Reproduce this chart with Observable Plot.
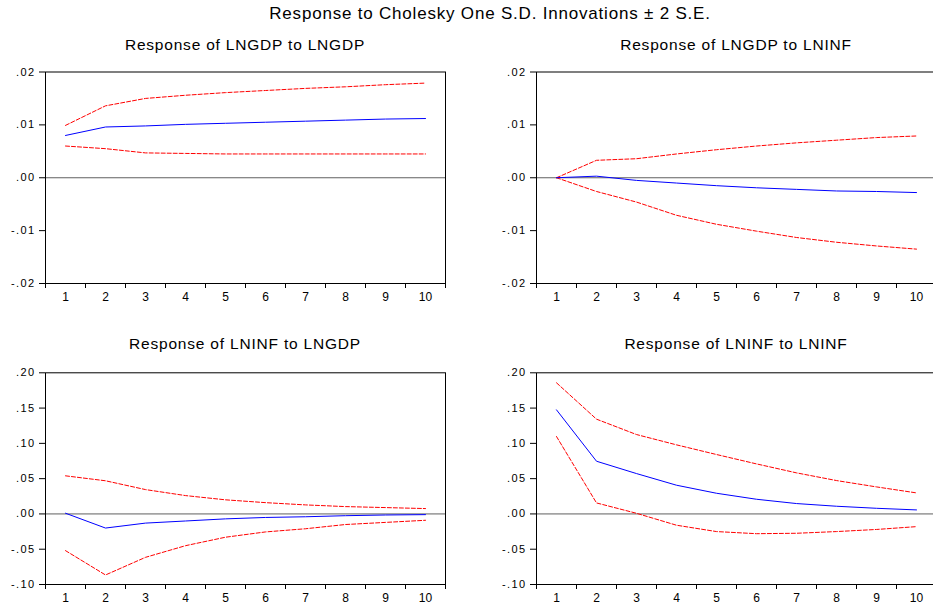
<!DOCTYPE html>
<html>
<head>
<meta charset="utf-8">
<script src="https://cdn.jsdelivr.net/npm/d3@7"></script>
<script src="https://cdn.jsdelivr.net/npm/@observablehq/plot@0.6"></script>
<style>
  html, body { margin: 0; padding: 0; background: #fff; }
  #wrap { position: relative; width: 933px; height: 605px; overflow: hidden; background: #fff;
          font-family: "Liberation Sans", Arial, sans-serif; color: #000; }
  .ttl { position: absolute; white-space: nowrap; transform: translateX(-50%); line-height: 1; }
  .panel { position: absolute; }
  [aria-label="y-axis tick label"] text { letter-spacing: 1.4px; }
</style>
</head>
<body>
<div id="wrap"></div>
<script>
const periods = [1, 2, 3, 4, 5, 6, 7, 8, 9, 10];
const halfTicks = [0.5, 1.5, 2.5, 3.5, 4.5, 5.5, 6.5, 7.5, 8.5, 9.5, 10.5];

const mainTitle = "Response to Cholesky One S.D. Innovations \u00b1 2 S.E.";
const panelTitles = [
  "Response of LNGDP to LNGDP",
  "Response of LNGDP to LNINF",
  "Response of LNINF to LNGDP",
  "Response of LNINF to LNINF"
];

const gdpTicks = [-0.02, -0.01, 0, 0.01, 0.02];
const infTicks = [-0.10, -0.05, 0, 0.05, 0.10, 0.15, 0.20];

// Response of LNGDP to LNGDP
const gdpGdpResp  = [0.0080, 0.0096, 0.0098, 0.0101, 0.0103, 0.0105, 0.0107, 0.0109, 0.0111, 0.0112];
const gdpGdpUpper = [0.0099, 0.0136, 0.0150, 0.0156, 0.0161, 0.0165, 0.0169, 0.0172, 0.0176, 0.0179];
const gdpGdpLower = [0.0060, 0.0055, 0.0047, 0.0046, 0.0045, 0.0045, 0.0045, 0.0045, 0.0045, 0.0045];

// Response of LNGDP to LNINF
const gdpInfResp  = [0.0000, 0.0003, -0.0005, -0.0010, -0.0015, -0.0019, -0.0022, -0.0025, -0.0026, -0.0028];
const gdpInfUpper = [0.0000, 0.0033, 0.0036, 0.0045, 0.0053, 0.0060, 0.0066, 0.0071, 0.0076, 0.0079];
const gdpInfLower = [0.0000, -0.0026, -0.0046, -0.0071, -0.0088, -0.0101, -0.0113, -0.0122, -0.0129, -0.0135];

// Response of LNINF to LNGDP
const infGdpResp  = [0.001, -0.020, -0.013, -0.010, -0.007, -0.005, -0.004, -0.0025, -0.0015, -0.001];
const infGdpUpper = [0.054, 0.047, 0.0345, 0.026, 0.020, 0.016, 0.0128, 0.0104, 0.009, 0.0076];
const infGdpLower = [-0.052, -0.0865, -0.0615, -0.045, -0.033, -0.0255, -0.021, -0.015, -0.012, -0.009];

// Response of LNINF to LNINF
const infInfResp  = [0.1475, 0.0747, 0.0572, 0.0407, 0.0293, 0.0208, 0.0147, 0.0109, 0.0080, 0.0057];
const infInfUpper = [0.1858, 0.1343, 0.1125, 0.0979, 0.0842, 0.0709, 0.0582, 0.0473, 0.0383, 0.0298];
const infInfLower = [0.1097, 0.0156, 0.0009, -0.0160, -0.0250, -0.0280, -0.0274, -0.0250, -0.0220, -0.0180];

const fmt = d => (d < 0 ? "-" : "") + Math.abs(d).toFixed(2).replace(/^0/, "");

function panel(resp, upper, lower, yDomain, yTicks, o) {
  const rows = periods.map((p, i) => ({p, resp: resp[i], upper: upper[i], lower: lower[i]}));
  return Plot.plot({
    width: o.width, height: o.height,
    marginLeft: o.ml, marginRight: o.mr, marginTop: o.mt, marginBottom: o.mb,
    x: {domain: [0.5, 10.5], label: null},
    y: {domain: yDomain, label: null},
    style: {fontFamily: '"Liberation Sans", Arial, sans-serif', background: "transparent", color: "#000", overflow: "visible"},
    marks: [
      Plot.ruleY([0], {stroke: "#606060", strokeWidth: 1}),
      Plot.line(rows, {x: "p", y: "upper", stroke: "#ff0000", strokeWidth: 1, strokeDasharray: "4,2"}),
      Plot.line(rows, {x: "p", y: "lower", stroke: "#ff0000", strokeWidth: 1, strokeDasharray: "4,2"}),
      Plot.line(rows, {x: "p", y: "resp", stroke: "#0000ff", strokeWidth: 1}),
      Plot.frame({stroke: "#000", strokeWidth: 1}),
      Plot.axisY(yTicks, {tickSize: 6, tickPadding: 4, tickFormat: fmt, fontSize: 11, label: null}),
      Plot.axisX(halfTicks, {tickSize: 5, tickFormat: () => "", label: null}),
      Plot.axisX(periods, {tickSize: 0, tickPadding: 9, fontSize: 12, label: null})
    ]
  });
}

const wrap = document.getElementById("wrap");

function addTitle(text, cx, baseline, size, ls) {
  const d = document.createElement("div");
  d.className = "ttl";
  d.textContent = text;
  d.style.left = cx + "px";
  d.style.fontSize = size + "px";
  d.style.letterSpacing = ls + "px";
  d.style.top = (baseline - 0.9 * size) + "px";
  wrap.appendChild(d);
}

function addPanel(svg, left, top) {
  svg.classList.add("panel");
  svg.style.left = left + "px";
  svg.style.top = top + "px";
  wrap.appendChild(svg);
}

const topOpt = {width: 466, height: 305, ml: 45, mr: 21, mt: 71.5, mb: 22};
const topROpt = {width: 446, height: 305, ml: 46, mr: 0, mt: 71.5, mb: 22};
const botOpt = {width: 466, height: 305, ml: 45, mr: 21, mt: 72.3, mb: 21};
const botROpt = {width: 446, height: 305, ml: 46, mr: 0, mt: 72.3, mb: 21};

addPanel(panel(gdpGdpResp, gdpGdpUpper, gdpGdpLower, [-0.02, 0.02], gdpTicks, topOpt), 0, 0);
addPanel(panel(gdpInfResp, gdpInfUpper, gdpInfLower, [-0.02, 0.02], gdpTicks, topROpt), 490, 0);
addPanel(panel(infGdpResp, infGdpUpper, infGdpLower, [-0.10, 0.20], infTicks, botOpt), 0, 300);
addPanel(panel(infInfResp, infInfUpper, infInfLower, [-0.10, 0.20], infTicks, botROpt), 490, 300);

addTitle(mainTitle, 490, 20.5, 17, 0.8);
addTitle(panelTitles[0], 245, 51, 15.5, 0.8);
addTitle(panelTitles[1], 736, 51, 15.5, 0.8);
addTitle(panelTitles[2], 245, 350, 15.5, 0.8);
addTitle(panelTitles[3], 736, 350, 15.5, 0.8);
</script>
</body>
</html>
